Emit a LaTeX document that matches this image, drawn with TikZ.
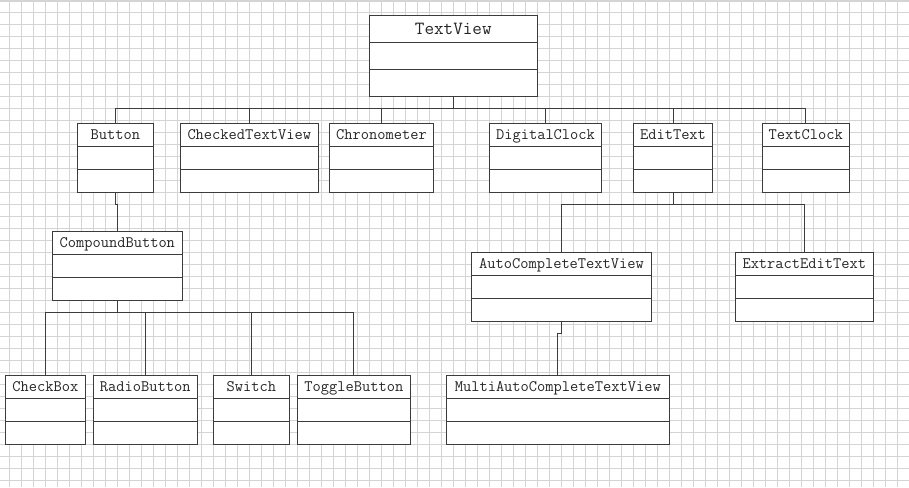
\documentclass[tikz,border=0pt]{standalone}
\usepackage{fontspec}
\usetikzlibrary{calc}
\definecolor{linec}{RGB}{60,60,60}
\definecolor{gridc}{RGB}{212,212,212}
\tikzset{
  clsbox/.style={draw=linec, fill=white, line width=1pt, inner sep=0pt, outer sep=0pt, rectangle},
  clstext/.style={font=\ttfamily\fontsize{16}{18}\selectfont, text=black!85, inner sep=0pt, anchor=base, yshift=7pt},
  bigtext/.style={font=\ttfamily\fontsize{18.6}{20}\selectfont, text=black!85, inner sep=0pt, anchor=base, yshift=8.6pt},
  conn/.style={draw=linec, line width=1pt},
}
% [label style]{name}{x1}{y1}{x2}{y2}{text}
\newcommand{\umlcls}[7][clstext]{%
  \node[clsbox, minimum width={#5pt-#3pt}, minimum height={#6pt-#4pt}] (#2) at ({(#3+#5)/2},{(#4+#6)/2}) {};
  \draw[conn] ($(#2.north west)!1/3!(#2.south west)$) -- ($(#2.north east)!1/3!(#2.south east)$);
  \draw[conn] ($(#2.north west)!2/3!(#2.south west)$) -- ($(#2.north east)!2/3!(#2.south east)$);
  \node[#1] (#2-label) at ($(#2.north)!1/3!(#2.south)$) {#7};
}
\begin{document}
\begin{tikzpicture}[x=1pt, y=-1pt]
\useasboundingbox (0,0) rectangle (909,487);
\fill[white] (0,0) rectangle (909,487);
% grid
\foreach \i in {0,...,75} { \draw[gridc, line width=1pt] ({9+12*\i},0) -- ({9+12*\i},487); }
\foreach \j in {0,...,39} { \draw[gridc, line width=1pt] (0,{12.5+12*\j}) -- (909,{12.5+12*\j}); }
\fill[gridc] (0,0) rectangle (909,2);

% classes
\umlcls[bigtext]{tv}{369.3}{16}{537.3}{96.3}{TextView}
\umlcls{button}{77.3}{123.3}{153.3}{192.3}{Button}
\umlcls{ctv}{180.3}{123.3}{318.3}{192.3}{CheckedTextView}
\umlcls{chrono}{329.7}{123.3}{433.3}{192.3}{Chronometer}
\umlcls{dclock}{489.3}{123.3}{601.7}{192.3}{DigitalClock}
\umlcls{edit}{633.7}{123.3}{712.3}{192.3}{EditText}
\umlcls{tclock}{762.3}{123.3}{849.3}{192.3}{TextClock}
\umlcls{cbutton}{52.3}{231.7}{182.3}{300}{CompoundButton}
\umlcls{checkbox}{5.3}{375.7}{85.3}{444}{CheckBox}
\umlcls{radio}{93.3}{375.7}{197.3}{444}{RadioButton}
\umlcls{switch}{213.3}{375.7}{289.3}{444}{Switch}
\umlcls{toggle}{297.3}{375.7}{410.3}{444}{ToggleButton}
\umlcls{actv}{471.7}{252.3}{651.3}{321}{AutoCompleteTextView}
\umlcls{eet}{735.3}{252.3}{873.3}{321}{ExtractEditText}
\umlcls{mactv}{446.3}{375.7}{669.3}{444}{MultiAutoCompleteTextView}

% buses
\coordinate (busA) at (0,108.3);
\coordinate (busB) at (0,312.3);
\coordinate (busC) at (0,204.3);

% TextView hierarchy
\draw[conn] (tv.south) -- (tv.south |- busA);
\draw[conn] (button.north |- busA) -- (tclock.north |- busA);
\foreach \c in {button,ctv,chrono,dclock,edit,tclock} { \draw[conn] (\c.north) -- (\c.north |- busA); }

% Button -> CompoundButton
\draw[conn] (button.south) -- ++(0,12) -| (cbutton.north);

% CompoundButton hierarchy
\draw[conn] (cbutton.south) -- (cbutton.south |- busB);
\draw[conn] (checkbox.north |- busB) -- (toggle.north |- busB);
\foreach \c in {checkbox,radio,switch,toggle} { \draw[conn] (\c.north) -- (\c.north |- busB); }

% EditText hierarchy
\draw[conn] (edit.south) -- (edit.south |- busC);
\draw[conn] (actv.north |- busC) -- (eet.north |- busC);
\foreach \c in {actv,eet} { \draw[conn] (\c.north) -- (\c.north |- busC); }

% AutoCompleteTextView -> MultiAutoCompleteTextView
\draw[conn] (actv.south) -- ++(0,12.7) -| (mactv.north);
\end{tikzpicture}
\end{document}
